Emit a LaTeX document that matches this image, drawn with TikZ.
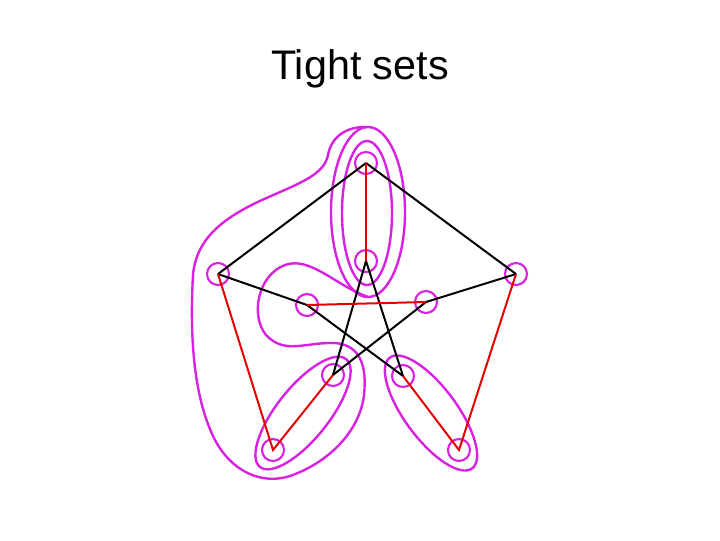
\documentclass[tikz,border=0pt]{standalone}
\usepackage{fontspec}
\setmainfont{Liberation Sans}
\begin{document}
\begin{tikzpicture}[x=0.75pt,y=-0.75pt,
  vert/.style={circle,draw=mag,line width=1.6pt,minimum size=16.5pt,inner sep=0pt},
  blk/.style={black,line width=1.5pt},
  redl/.style={red!90!black,line width=1.5pt},
  set/.style={draw=mag,line width=1.8pt}]
\definecolor{mag}{RGB}{215,35,225}
\useasboundingbox (0,0) rectangle (720,540);
\node[font=\fontsize{31}{36}\selectfont] (title) at (360,69) {Tight sets};
\node[vert] (A) at (366,163) {};
\node[vert] (B) at (366,261) {};
\node[vert] (C) at (218,274) {};
\node[vert] (D) at (516,274) {};
\node[vert] (E) at (307,305) {};
\node[vert] (F) at (426,302) {};
\node[vert] (G) at (333,375) {};
\node[vert] (H) at (403,376) {};
\node[vert] (I) at (273,450) {};
\node[vert] (J) at (459,450) {};
% tight sets
\draw[set] (367,213) ellipse[x radius=25,y radius=72];
\draw[set] (368,212) ellipse[x radius=37,y radius=85];
\draw[set,rotate around={51.4:(303,413)}] (303,413) ellipse[x radius=69,y radius=26];
\draw[set,rotate around={-53.4:(431,413)}] (431,413) ellipse[x radius=69,y radius=26];
\draw[set] (368,127) .. controls (345,126) and (331,138) .. (328,155)
  .. controls (324,175) and (300,183) .. (262,200)
  .. controls (225,217) and (196,238) .. (193,275)
  .. controls (190,330) and (192,395) .. (215,440)
  .. controls (232,472) and (262,485) .. (290,476)
  .. controls (330,462) and (360,430) .. (364,395)
  .. controls (367,365) and (360,345) .. (335,343)
  .. controls (305,342) and (285,355) .. (266,335)
  .. controls (250,315) and (258,275) .. (285,265)
  .. controls (310,256) and (335,285) .. (368,297);
% edges
\draw[blk] (A.center) -- (C.center);
\draw[blk] (A.center) -- (D.center);
\draw[blk] (C.center) -- (E.center) -- (H.center);
\draw[blk] (D.center) -- (F.center) -- (G.center);
\draw[blk] (B.center) -- (G.center);
\draw[blk] (B.center) -- (H.center);
\draw[redl] (A.center) -- (B.center);
\draw[redl] (E.center) -- (F.center);
\draw[redl] (C.center) -- (I.center) -- (G.center);
\draw[redl] (H.center) -- (J.center) -- (D.center);
\end{tikzpicture}
\end{document}
